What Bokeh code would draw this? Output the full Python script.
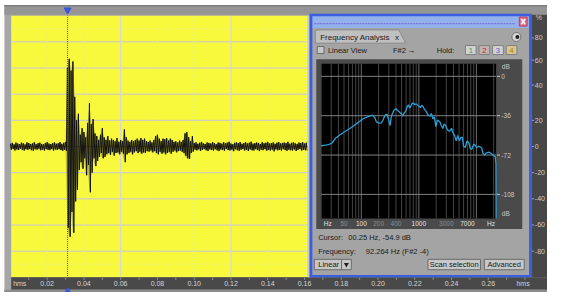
import numpy as np
from bokeh.plotting import figure
from bokeh.models import Range1d, LogScale
from bokeh.core.properties import value
from bokeh.embed import file_html
from bokeh.resources import INLINE

# ---------------- data ----------------
# waveform envelope, one max/min pair per millisecond (percent of full scale)
wave_hi = [2.1, 2.8, 1.6, 3.0, 2.2, 1.8, 2.9, 2.4, 1.5, 3.1, 2.6, 1.9, 2.3, 3.2, 1.7,
           2.5, 2.9, 2.0, 1.6, 2.7, 3.3, 2.2, 1.8, 2.6, 3.0, 2.1, 2.4, 3.4, 2.0, 2.8,
           3.5, 60, 67, 58, 65, 38, 20, 25, 9, 14, 11, 7, 18, 33, 17, 21, 10, 8, 5, 9,
           14, 7, 5, 8, 4.5, 6, 5, 4, 6.5, 3.5, 5, 4, 13, 7, 4.5, 3.5, 5,
           4, 5, 6, 4.5, 6.5, 5, 6, 4, 3.5, 4.5, 3, 5, 8, 9, 6, 4, 6, 5.5, 6.5, 4.5,
           6, 5, 3.5, 4, 3, 4.5, 3.5, 5, 10, 11, 7, 4, 8,
           2.6, 3.2, 2.0, 2.9, 3.5, 2.3, 1.9, 3.1, 2.7, 2.2, 3.4, 2.5, 1.8, 3.0, 2.8,
           2.1, 3.3, 2.4, 2.9, 3.6, 2.2, 1.7, 2.8, 3.1, 2.5, 3.4, 2.0, 2.6, 3.2, 2.3,
           2.9, 3.7, 2.1, 2.5, 3.0, 2.7, 1.9, 3.3, 2.4, 2.8, 3.5, 2.2, 2.6, 3.1, 2.0,
           2.9, 3.4, 2.3, 2.7, 3.0, 2.5, 3.6, 2.1, 2.8, 3.2, 2.4, 1.9, 3.0, 2.6, 3.3,
           2.2, 2.9]
wave_lo = [-2.4, -1.8, -3.0, -2.2, -2.7, -1.6, -2.5, -3.1, -2.0, -2.6, -1.9, -2.8, -3.2, -2.1, -2.4,
           -1.7, -2.9, -2.3, -3.0, -2.0, -2.5, -2.8, -1.9, -3.1, -2.2, -2.6, -2.0, -2.7, -3.3, -2.4,
           -3.2, -62, -69, -50, -66, -42, -33, -18, -12, -17, -9, -22, -14, -35, -20, -9, -15, -11, -8, -5,
           -9, -8, -6, -5, -6.5, -4, -7, -5, -4.5, -6, -4, -5.5, -12, -6, -5, -4, -6,
           -4.5, -3.5, -5, -4, -5.5, -4.5, -5, -3.5, -4, -3, -4.5, -3.5, -5, -6, -4, -5.5, -4.5, -6, -5, -4,
           -5.5, -4, -3, -4.5, -3.5, -3, -4, -5, -7, -9, -9.5, -5, -4,
           -2.4, -3.0, -2.1, -3.3, -2.6, -1.9, -2.8, -3.4, -2.2, -2.7, -3.1, -2.0, -2.9, -3.5, -2.3,
           -2.6, -3.2, -1.8, -2.7, -3.0, -2.4, -3.6, -2.1, -2.8, -3.3, -2.5, -1.9, -3.0, -2.6, -3.4,
           -2.2, -2.9, -3.1, -2.0, -2.7, -3.5, -2.4, -2.8, -1.9, -3.2, -2.6, -3.0, -2.3, -3.7, -2.1,
           -2.9, -2.5, -3.1, -2.0, -2.7, -3.3, -2.4, -2.8, -3.0, -2.2, -3.4, -2.6, -1.9, -3.1, -2.5,
           -2.8, -3.2]
wave_step = 0.001
cursor_time = 0.0311

time_ticks = [0.02, 0.04, 0.06, 0.08, 0.10, 0.12, 0.14, 0.16, 0.18, 0.20, 0.22, 0.24, 0.26]
time_labels = ["0.02", "0.04", "0.06", "0.08", "0.10", "0.12", "0.14", "0.16",
               "0.18", "0.20", "0.22", "0.24", "0.26"]
time_solid = [0.06, 0.12]
time_dotted = [0.02, 0.04, 0.08, 0.10, 0.14, 0.16]
amp_solid = [80, 60, 40, 20, -20, -40, -60, -80]
amp_dotted = [90, -90]
amp_label_pos = [83, 66, 47, 20, 0, -20, -40, -60, -80]
amp_labels = ["80", "60", "40", "20", "0", "-20", "-40", "-60", "-80"]

# spectrum (Hz, dB)
spec_freq = [20, 24, 27, 31, 36, 44, 53, 64, 78, 92,
             106, 122, 140, 157, 170, 183, 204, 224, 238, 250,
             265, 281, 300, 316, 330, 343, 370, 400, 425, 448,
             490, 526, 560, 590, 625, 660, 690, 715, 760, 804,
             850, 904, 980, 1060, 1120, 1190, 1260, 1340, 1450, 1570,
             1650, 1760, 1860, 1980, 2100, 2320, 2450, 2610, 2750, 2930,
             3150, 3430, 3700, 3950, 4170, 4450, 4750, 5060, 5400, 5690,
             6000, 6400, 6900, 7400, 7850, 8320, 9000, 9600, 10100, 11000,
             12300, 13000, 13800, 15000, 16800, 18500, 20400, 21300, 21900, 22050]
spec_db = [-63.5, -63, -62.5, -61, -56.4, -53, -50.3, -47.5, -44.2, -41.5,
           -39.0, -37.5, -36.4, -35.5, -37.5, -41.6, -42.8, -42.5, -40, -37.3,
           -35, -34.7, -40, -45.1, -38, -34.7, -31, -29.5, -31, -32.1,
           -34, -36.4, -33, -32.1, -28, -26.0, -29, -27.8, -25, -24.3,
           -26, -25.2, -27, -28.6, -26.5, -27.8, -30.5, -32.1, -35.5, -36.4,
           -34, -39.0, -37, -46.0, -40, -41.6, -45, -47.7, -43.5, -45.1,
           -49, -50.3, -47.5, -52, -53.8, -59, -54, -59.0, -56, -55.5,
           -64, -65.1, -59, -60.7, -66, -66.8, -62, -63.3, -65.1, -64,
           -65.1, -70, -72.0, -70, -69.4, -71, -72.9, -73.5, -80, -130]
freq_ticks = [50, 100, 200, 400, 1000, 3000, 7000]
freq_labels = ["50", "100", "200", "400", "1000", "3000", "7000"]
freq_major = [100, 1000, 7000]
db_ticks = [0, -36, -72, -108]
db_labels = ["0", "-36", "-72", "-108"]

# ---------------- layout (screen geometry of the reference, px) ----------------
W, H = 563, 308
T0, TPX = 10.2, 1891.7            # waveform time ruler
A0, APX = 154.0, 1.38             # waveform amplitude ruler
F0, FPX = 330.0, 59.2             # spectrum log-frequency
D0, DPX = 80.0, 41.5 / 36.0       # spectrum dB

FONT = value("Liberation Sans")

p = figure(width=547, height=292, x_range=Range1d(0, W), y_range=Range1d(H, 0),
           output_backend="svg", toolbar_location=None, min_border=0,
           x_axis_type=None, y_axis_type=None)
p.outline_line_color = None
p.background_fill_color = "white"
p.border_fill_color = "white"
p.extra_x_ranges = {
    "t": Range1d((0 - T0) / TPX, (W - T0) / TPX),
    "f": Range1d(20 * 10 ** ((0 - F0) / FPX), 20 * 10 ** ((W - F0) / FPX)),
}
p.extra_x_scales = {"f": LogScale()}
p.extra_y_ranges = {
    "amp": Range1d((A0 - H) / APX, A0 / APX),
    "db": Range1d((D0 - H) / DPX, D0 / DPX),
}


def box(l, t, r, b, fill, line=None, lw=1):
    p.quad(left=[l], right=[r], top=[t], bottom=[b], fill_color=fill,
           line_color=line, line_width=lw)


def txt(x, y, s, size="7px", color="#1a1a1a", align="left", xr="default", yr="default",
        style="normal"):
    p.text(x=x if isinstance(x, list) else [x], y=y if isinstance(y, list) else [y],
           text=s if isinstance(s, list) else [s], text_font=FONT, text_font_size=size,
           text_color=color, text_align=align, text_baseline="middle",
           text_font_style=style, x_range_name=xr, y_range_name=yr)


# ---- editor chrome ----
box(4, 5, 563, 308, "#a6a6a6")
box(4, 5, 563, 15, "#959595")
p.segment(x0=[4], y0=[5.5], x1=[563], y1=[5.5], line_color="#707070")
box(11, 16, 317, 292, "#f8f83c")           # yellow waveform area
box(547, 15, 563, 292, "#474747")          # vertical ruler
box(11, 292, 563, 305, "#494949")          # time ruler
box(4, 305, 563, 308, "#8c8c8c")

# ---- waveform grid ----
wt0, wt1 = (11 - T0) / TPX, (317 - T0) / TPX
p.segment(x0=[wt0] * len(amp_solid), y0=amp_solid, x1=[wt1] * len(amp_solid), y1=amp_solid,
          line_color="#c6c6dc", line_width=1, x_range_name="t", y_range_name="amp")
p.segment(x0=[wt0] * len(amp_dotted), y0=amp_dotted, x1=[wt1] * len(amp_dotted), y1=amp_dotted,
          line_color="#e4f0b0", line_width=1, line_dash="1 2", x_range_name="t", y_range_name="amp")
p.segment(x0=time_solid, y0=[-99] * len(time_solid), x1=time_solid, y1=[100] * len(time_solid),
          line_color="#d2d2f0", line_width=1, x_range_name="t", y_range_name="amp")
p.segment(x0=time_dotted, y0=[-99] * len(time_dotted), x1=time_dotted, y1=[100] * len(time_dotted),
          line_color="#d8eea8", line_width=1, line_dash="1 2", x_range_name="t", y_range_name="amp")
p.segment(x0=[wt0], y0=[0], x1=[wt1], y1=[0], line_color="#d03a30", line_width=1,
          x_range_name="t", y_range_name="amp")

# ---- waveform ----
n = min(len(wave_hi), len(wave_lo))
tt = np.arange(n) * wave_step
hi = np.array(wave_hi[:n], dtype=float)
lo = np.array(wave_lo[:n], dtype=float)
p.varea(x=tt, y1=lo, y2=hi, fill_color="#8e8e2a", fill_alpha=0.55,
        x_range_name="t", y_range_name="amp")
zx = np.empty(2 * n)
zy = np.empty(2 * n)
zx[0::2] = tt
zx[1::2] = tt + wave_step / 2
zy[0::2] = hi
zy[1::2] = lo
p.line(zx, zy, line_color="#141414", line_width=1, x_range_name="t", y_range_name="amp")

# cursor
p.segment(x0=[cursor_time], y0=[-99], x1=[cursor_time], y1=[100], line_color="#505050",
          line_dash="1 1", x_range_name="t", y_range_name="amp")
p.scatter(x=[cursor_time], y=[10], marker="inverted_triangle", size=7,
          fill_color="#3a56d8", line_color="#3a56d8", x_range_name="t")
p.scatter(x=[cursor_time], y=[306], marker="triangle", size=5,
          fill_color="#3a56d8", line_color="#3a56d8", x_range_name="t")

# ---- time ruler ----
minor_t = [k * 0.01 for k in range(1, 29)]
p.segment(x0=minor_t, y0=[292.5] * len(minor_t), x1=minor_t, y1=[294.5] * len(minor_t),
          line_color="#9a9a9a", x_range_name="t")
txt(time_ticks, [299] * len(time_ticks), time_labels, color="#d4d4d4", align="center", xr="t")
txt(13, 299, "hms", color="#d4d4d4")
txt(531, 299, "hms", color="#d4d4d4")

# ---- vertical ruler ----
txt([550] * len(amp_labels), amp_label_pos, amp_labels, color="#cccccc", yr="amp")
p.segment(x0=[547] * len(amp_label_pos), y0=amp_label_pos, x1=[549] * len(amp_label_pos),
          y1=amp_label_pos, line_color="#9aa0ff", y_range_name="amp")
txt(551, 18, "%", color="#cccccc")

# ---- Frequency Analysis window ----
box(316, 16, 319, 292, "#c8c8c8")
box(318, 14, 547, 292, "#3b5de0")
box(321, 16.5, 544, 29, "#93b2ec")
p.segment(x0=[323], y0=[24.5], x1=[530], y1=[24.5], line_color="#7a5cd6", line_dash="2 1")
box(534, 17.5, 542, 27, "#e8708c", "#b04060")
p.segment(x0=[536, 540], y0=[19.5, 19.5], x1=[540, 536], y1=[25, 25], line_color="white",
          line_width=1.5)
box(321, 29, 544, 289.5, "#a4a4a4")

# tab
p.patch(x=[324, 324, 327, 410, 417], y=[45, 32, 31, 31, 45], fill_color="#c0c0c0",
        line_color="#8a8a8a")
txt(329, 38.5, "Frequency Analysis", size="8px")
txt(408, 38.5, "x", size="8px", align="center")
p.scatter(x=[531], y=[38.5], marker="circle", size=9, fill_color="#d8d8d8", line_color="#707070")
p.scatter(x=[532], y=[38.5], marker="circle", size=4, fill_color="#202020", line_color=None)

# option row
box(326, 48.5, 333, 56, "#c8c8c8", "#6a6a6a")
txt(337, 52.5, "Linear View", size="7.5px")
txt(404, 52.5, "F#2 \u2192", size="7.5px")
txt(449, 52.5, "Hold:", size="7.5px")
btn_x = [484, 498, 512, 526]
btn_fill = ["#d2d2d2", "#c4b2b2", "#d2d2d2", "#d8c890"]
btn_col = ["#28a060", "#c02020", "#6050d0", "#b08000"]
for i in range(4):
    box(btn_x[i] - 5.5, 47.5, btn_x[i] + 5.5, 57, btn_fill[i], "#808080")
    txt(btn_x[i], 52.5, str(i + 1), size="7.5px", color=btn_col[i], align="center")

# spectrum frame and plot
box(325, 62, 537, 241, "#4a4a4a")
f_lo, f_hi = 20, 22050
db_top, db_bot = 11.5, -130
p.quad(left=[f_lo], right=[f_hi], top=[db_top], bottom=[db_bot], fill_color="black",
       line_color=None, x_range_name="f", y_range_name="db")
grid_f = [m * d for d in (10, 100, 1000, 10000) for m in range(1, 10)
          if 20 <= m * d <= 20000]
minor_f = [g for g in grid_f if g not in (100, 1000, 10000)]
p.segment(x0=minor_f, y0=[db_bot] * len(minor_f), x1=minor_f, y1=[db_top] * len(minor_f),
          line_color="#444444", x_range_name="f", y_range_name="db")
p.segment(x0=[100, 1000, 10000], y0=[db_bot] * 3, x1=[100, 1000, 10000], y1=[db_top] * 3,
          line_color="#6a6a6a", x_range_name="f", y_range_name="db")
p.segment(x0=[f_lo] * len(db_ticks), y0=db_ticks, x1=[f_hi] * len(db_ticks), y1=db_ticks,
          line_color="#808080", x_range_name="f", y_range_name="db")
p.line(spec_freq, spec_db, line_color="#2e9fd8", line_width=1.3,
       x_range_name="f", y_range_name="db")

# spectrum axes labels
p.segment(x0=[511] * len(db_ticks), y0=db_ticks, x1=[514] * len(db_ticks), y1=db_ticks,
          line_color="#c8c8c8", y_range_name="db")
txt([515.5] * len(db_ticks), db_ticks, db_labels, size="6.5px", color="#c8c8c8", yr="db")
txt(516, 70, "dB", size="6.5px", color="#c8c8c8")
txt(516, 225, "dB", size="6.5px", color="#c8c8c8")
fcol = ["#e0e0e0" if f in freq_major else "#8c8c8c" for f in freq_ticks]
txt(freq_ticks, [235.5] * len(freq_ticks), freq_labels, size="6.5px", color=fcol,
    align="center", xr="f")
txt([26, 18000], [235.5, 235.5], ["Hz", "Hz"], size="6.5px", color="#e0e0e0",
    align="center", xr="f")

# readouts
txt(327, 250, "Cursor:", size="7.5px")
txt(358, 250, "00.25 Hz, -54.9 dB", size="7.5px")
txt(327, 265, "Frequency:", size="7.5px")
txt(376, 265, "92.264 Hz (F#2 -4)", size="7.5px")

# bottom controls
box(323, 273, 351, 284, "#c6c6c6", "#6a6a6a")
box(351, 273, 361, 284, "#c6c6c6", "#6a6a6a")
txt(327, 278.5, "Linear", size="7.5px")
p.scatter(x=[356], y=[278.5], marker="inverted_triangle", size=5, fill_color="#202020",
          line_color=None)
box(440, 273, 494, 284, "#c8c8c8", "#6a6a6a")
txt(467, 278.5, "Scan selection", size="7.5px", align="center")
box(498, 273, 539, 284, "#c8c8c8", "#6a6a6a")
txt(518.5, 278.5, "Advanced", size="7.5px", align="center")

open("out.html", "w").write(file_html(p, INLINE))
